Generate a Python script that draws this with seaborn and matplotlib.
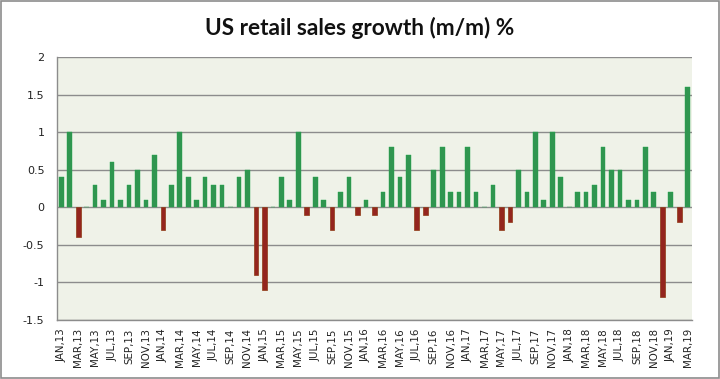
import matplotlib
matplotlib.use("Agg")
import matplotlib.pyplot as plt
import seaborn as sns
import pandas as pd
from matplotlib.patches import Rectangle

months = ["JAN", "FEB", "MAR", "APR", "MAY", "JUN", "JUL", "AUG", "SEP", "OCT", "NOV", "DEC"]
labels = [f"{m},{y}" for y in range(13, 20) for m in months][:75]

values = [
    0.4, 1.0, -0.4, 0.0, 0.3, 0.1, 0.6, 0.1, 0.3, 0.5, 0.1, 0.7,     # 2013
    -0.3, 0.3, 1.0, 0.4, 0.1, 0.4, 0.3, 0.3, 0.0, 0.4, 0.5, -0.9,    # 2014
    -1.1, 0.0, 0.4, 0.1, 1.0, -0.1, 0.4, 0.1, -0.3, 0.2, 0.4, -0.1,  # 2015
    0.1, -0.1, 0.2, 0.8, 0.4, 0.7, -0.3, -0.1, 0.5, 0.8, 0.2, 0.2,   # 2016
    0.8, 0.2, 0.0, 0.3, -0.3, -0.2, 0.5, 0.2, 1.0, 0.1, 1.0, 0.4,    # 2017
    0.0, 0.2, 0.2, 0.3, 0.8, 0.5, 0.5, 0.1, 0.1, 0.8, 0.2, -1.2,     # 2018
    0.2, -0.2, 1.6,                                                  # 2019
]

title = "US retail sales growth (m/m) %"
y_ticks = [-1.5, -1, -0.5, 0, 0.5, 1, 1.5, 2]

df = pd.DataFrame({"month": labels, "value": values})
df["sign"] = ["pos" if v >= 0 else "neg" for v in values]

sns.set_theme(style="white")
plt.rcParams["font.family"] = ["DejaVu Sans"]

fig = plt.figure(figsize=(7.2, 3.79), dpi=100)
ax = fig.add_axes([0.0792, 0.1562, 0.961 - 0.0792, 0.8488 - 0.1562])
ax.set_facecolor("#EFF2E8")

sns.barplot(data=df, x="month", y="value", hue="sign",
            palette={"pos": "#1FA64A", "neg": "#A8140A"},
            dodge=False, width=0.55, legend=False, ax=ax, zorder=3)

for bar in ax.patches:
    h = bar.get_height()
    if h < 0:
        bar.set_edgecolor("#8E3A14")
        bar.set_linewidth(0.5)
    else:
        bar.set_edgecolor("#1FA64A")
        bar.set_linewidth(0.3)

ax.set_xlim(-0.5, len(values) - 0.5)
ax.set_ylim(-1.5, 2)
ax.set_yticks(y_ticks)
ax.set_yticklabels([f"{t:g}" for t in y_ticks], fontsize=8, color="#222222")
ax.set_xticks(range(0, len(values), 2))
ax.set_xticklabels(labels[::2], rotation=90, fontsize=7.4, color="#222222")
ax.tick_params(axis="both", length=0)
ax.tick_params(axis="y", pad=9)
ax.tick_params(axis="x", pad=6)
ax.set_xlabel("")
ax.set_ylabel("")

for t in y_ticks:
    ax.axhline(t, color="#8C8C8C", lw=1.0, zorder=1)

for s in ["top", "right"]:
    ax.spines[s].set_visible(False)
ax.spines["left"].set_color("#8C8C8C")
ax.spines["bottom"].set_color("#8C8C8C")
ax.spines["left"].set_linewidth(1.0)
ax.spines["bottom"].set_linewidth(1.0)

fig.text(0.5, 0.926, title, ha="center", va="center", fontsize=16.3,
         fontweight="bold", family=["Lato", "DejaVu Sans"], color="#111111")

fig.patches.append(Rectangle((0.001, 0.002), 0.997, 0.995, transform=fig.transFigure,
                             fill=False, edgecolor="#8C8C8C", lw=1.2))

fig.savefig("out.png", dpi=100)
